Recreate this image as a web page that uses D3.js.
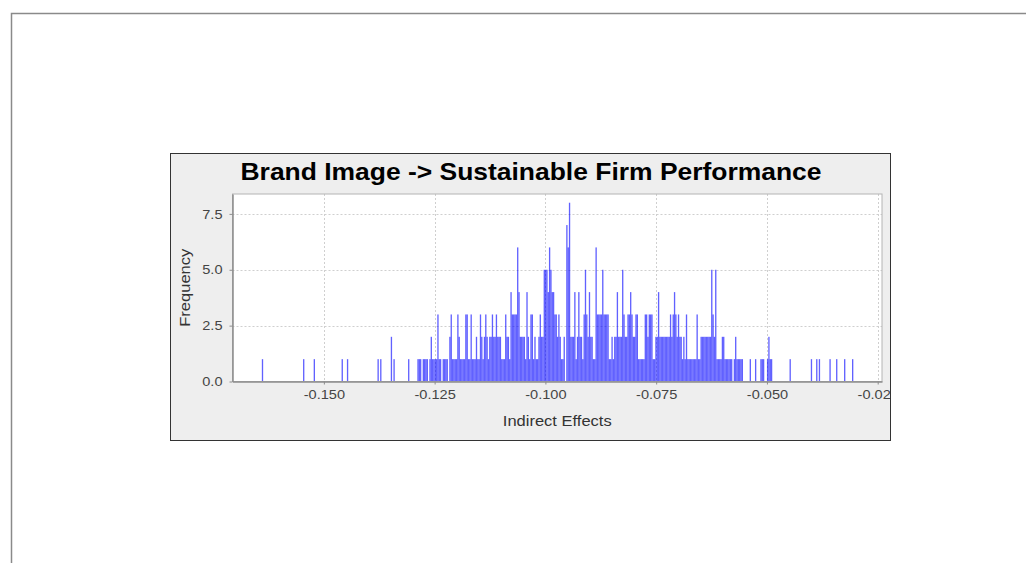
<!DOCTYPE html>
<html>
<head>
<meta charset="utf-8">
<script src="https://cdn.jsdelivr.net/npm/d3@7"></script>
<style>
  html, body { margin: 0; padding: 0; background: #fff; }
  svg { display: block; font-family: "Liberation Sans", Arial, sans-serif; }
</style>
</head>
<body>
<div class="chart"></div>
<script>
// bins of the bootstrap distribution (lower edge + width)
var binWidth = 0.0003

// sparse tails: [lower edge, frequency]
var leftTail = [
  [-0.1640, 1], [-0.1547, 1], [-0.1523, 1], [-0.1460, 1], [-0.1448, 1],
  [-0.1379, 1], [-0.1373, 1], [-0.1349, 2], [-0.1343, 1], [-0.1310, 1],
  [-0.1289, 1], [-0.1286, 1]
]
var rightTail = [
  [-0.0449, 1], [-0.0401, 1], [-0.0389, 1], [-0.0383, 1], [-0.0359, 1],
  [-0.0344, 1], [-0.0326, 1], [-0.0308, 1]
]

// dense core, consecutive bins starting at coreStart
var coreStart = -0.1283
var coreFreq = [
  1, 0, 1, 1, 1, 1, 0, 1, 2, 1, 1, 1, 1, 3, 1, 1, 0, 1, 1, 1,
  1, 0, 2, 3, 1, 1, 1, 1, 3, 2, 1, 1, 1, 1, 3, 3, 1, 1, 3, 1,
  1, 1, 2, 1, 1, 3, 2, 1, 2, 3, 2, 1, 2, 2, 3, 2, 2, 3, 2, 2,
  2, 1, 1, 1, 3, 2, 2, 1, 4, 3, 3, 3, 3, 6, 4, 2, 2, 2, 2, 1,
  4, 2, 1, 3, 3, 1, 2, 1, 1, 2, 3, 2, 2, 5, 5, 5, 4, 6, 5, 4,
  4, 3, 3, 2, 3, 2, 1, 1, 2, 0, 7, 6, 8, 2, 2, 2, 4, 1, 2, 4,
  2, 2, 1, 3, 5, 3, 2, 4, 2, 2, 1, 1, 6, 3, 3, 3, 3, 5, 3, 3,
  3, 3, 1, 1, 2, 1, 2, 2, 4, 2, 2, 2, 5, 3, 2, 2, 3, 3, 4, 3,
  2, 2, 3, 3, 1, 1, 1, 1, 1, 3, 3, 2, 3, 3, 3, 1, 1, 2, 2, 4,
  2, 2, 2, 2, 2, 2, 2, 2, 3, 2, 3, 4, 3, 2, 3, 2, 2, 1, 2, 1,
  3, 1, 1, 1, 1, 1, 1, 1, 3, 1, 1, 2, 2, 2, 2, 2, 2, 2, 2, 5,
  3, 2, 5, 1, 1, 1, 1, 2, 2, 1, 1, 1, 1, 1, 1, 0, 1, 2, 1, 1,
  1, 1, 1, 0, 0, 0, 0, 0, 1, 0, 0, 0, 1, 0, 0, 0, 1, 1, 1, 0,
  0, 1, 2, 1, 1
]

var xTicks = [-0.150, -0.125, -0.100, -0.075, -0.050, -0.025]
var yTicks = [0, 2.5, 5.0, 7.5]

var titleText = 'Brand Image -> Sustainable Firm Performance'
var xLabel = 'Indirect Effects'
var yLabel = 'Frequency'

document.addEventListener('DOMContentLoaded', () => {
  var W = 1026, H = 563

  // plain hyphen for negative numbers, as in the original
  var fmt = d3.formatLocale({ decimal: '.', thousands: ',', grouping: [3], currency: ['', ''], minus: '-' })

  // build the full bin table
  var bins = leftTail.map(d => ({ x0: d[0], n: d[1] }))
  coreFreq.forEach((n, i) => {
    if (n > 0) bins.push({ x0: coreStart + i * binWidth, n: n })
  })
  rightTail.forEach(d => bins.push({ x0: d[0], n: d[1] }))

  var svg = d3.select('.chart').append('svg')
    .attr('width', W)
    .attr('height', H)

  // outer frame
  svg.append('path')
    .attr('d', 'M11.5,' + H + 'V13.5H' + W)
    .attr('fill', 'none')
    .attr('stroke', '#8a8a8a')
    .attr('stroke-width', 1.5)

  // chart panel
  var panel = { x: 170.5, y: 153.5, w: 720, h: 287 }
  svg.append('clipPath').attr('id', 'panelClip')
    .append('rect')
    .attr('x', panel.x).attr('y', panel.y)
    .attr('width', panel.w).attr('height', panel.h)

  svg.append('rect')
    .attr('x', panel.x).attr('y', panel.y)
    .attr('width', panel.w).attr('height', panel.h)
    .attr('fill', '#eeeeee')

  var g = svg.append('g').attr('clip-path', 'url(#panelClip)')

  var plot = { left: 232.5, right: 882, top: 194, bottom: 381.5 }

  var x = d3.scaleLinear()
    .domain([-0.17062, -0.02403])
    .range([plot.left, plot.right])
  var y = d3.scaleLinear()
    .domain([0, 8.39])
    .range([plot.bottom, plot.top])

  // plot background
  g.append('rect')
    .attr('x', plot.left).attr('y', plot.top)
    .attr('width', plot.right - plot.left)
    .attr('height', plot.bottom - plot.top)
    .attr('fill', '#fff')

  // gridlines
  g.append('g').selectAll('line')
    .data(xTicks)
    .join('line')
    .attr('x1', d => Math.round(x(d)) + 0.5).attr('x2', d => Math.round(x(d)) + 0.5)
    .attr('y1', plot.top).attr('y2', plot.bottom)
    .attr('stroke', '#cfcfcf')
    .attr('stroke-dasharray', '2,2')
  g.append('g').selectAll('line')
    .data(yTicks.filter(d => d > 0))
    .join('line')
    .attr('x1', plot.left).attr('x2', plot.right)
    .attr('y1', d => Math.round(y(d)) + 0.5).attr('y2', d => Math.round(y(d)) + 0.5)
    .attr('stroke', '#cfcfcf')
    .attr('stroke-dasharray', '2,2')

  // bars
  g.append('g').selectAll('rect')
    .data(bins)
    .join('rect')
    .attr('x', d => x(d.x0))
    .attr('width', d => x(d.x0 + binWidth) - x(d.x0))
    .attr('y', d => y(d.n))
    .attr('height', d => y(0) - y(d.n))
    .attr('fill', '#0000ff')
    .attr('fill-opacity', 0.62)

  // plot outline
  g.append('rect')
    .attr('x', plot.left).attr('y', plot.top)
    .attr('width', plot.right - plot.left)
    .attr('height', plot.bottom - plot.top)
    .attr('fill', 'none')
    .attr('stroke', '#b4b4b4')

  // axes
  var xAxis = d3.axisBottom(x)
    .tickValues(xTicks)
    .tickFormat(fmt.format('.3f'))
    .tickSizeInner(3)
    .tickSizeOuter(0)
    .tickPadding(5)
  var yAxis = d3.axisLeft(y)
    .tickValues(yTicks)
    .tickFormat(fmt.format('.1f'))
    .tickSizeInner(3)
    .tickSizeOuter(0)
    .tickPadding(7)

  var gx = g.append('g')
    .attr('transform', 'translate(0,' + plot.bottom + ')')
    .call(xAxis)
  var gy = g.append('g')
    .attr('transform', 'translate(' + plot.left + ',0)')
    .call(yAxis)

  ;[gx, gy].forEach(a => {
    a.select('.domain').attr('stroke', '#8c8c8c').attr('stroke-width', 1.5)
    a.selectAll('.tick line').attr('stroke', '#8c8c8c')
    a.selectAll('.tick text')
      .attr('fill', '#444')
      .style('font-size', '13px')
      .style('font-family', '"Liberation Sans", Arial, sans-serif')
  })

  // horizontally widen labels a bit, like the original rendering
  const stretch = (sel, k) => {
    sel.each(function () {
      var w = this.getComputedTextLength()
      d3.select(this).attr('textLength', w * k).attr('lengthAdjust', 'spacingAndGlyphs')
    })
  }
  stretch(gx.selectAll('.tick text'), 1.12)
  stretch(gy.selectAll('.tick text'), 1.12)

  // axis labels
  var xl = g.append('text')
    .attr('x', (plot.left + plot.right) / 2)
    .attr('y', 426)
    .attr('text-anchor', 'middle')
    .attr('fill', '#333')
    .style('font-size', '15px')
    .text(xLabel)
  stretch(xl, 1.1)

  var yl = g.append('text')
    .attr('transform', 'translate(190,' + (plot.top + plot.bottom) / 2 + ') rotate(-90)')
    .attr('text-anchor', 'middle')
    .attr('fill', '#333')
    .style('font-size', '15px')
    .text(yLabel)
  stretch(yl, 1.1)

  // title
  g.append('text')
    .attr('x', 531)
    .attr('y', 180)
    .attr('text-anchor', 'middle')
    .attr('fill', '#000')
    .style('font-size', '24px')
    .style('font-weight', 'bold')
    .attr('textLength', 581)
    .attr('lengthAdjust', 'spacingAndGlyphs')
    .text(titleText)

  // panel border
  svg.append('rect')
    .attr('x', panel.x).attr('y', panel.y)
    .attr('width', panel.w).attr('height', panel.h)
    .attr('fill', 'none')
    .attr('stroke', '#333')
})
</script>
</body>
</html>
